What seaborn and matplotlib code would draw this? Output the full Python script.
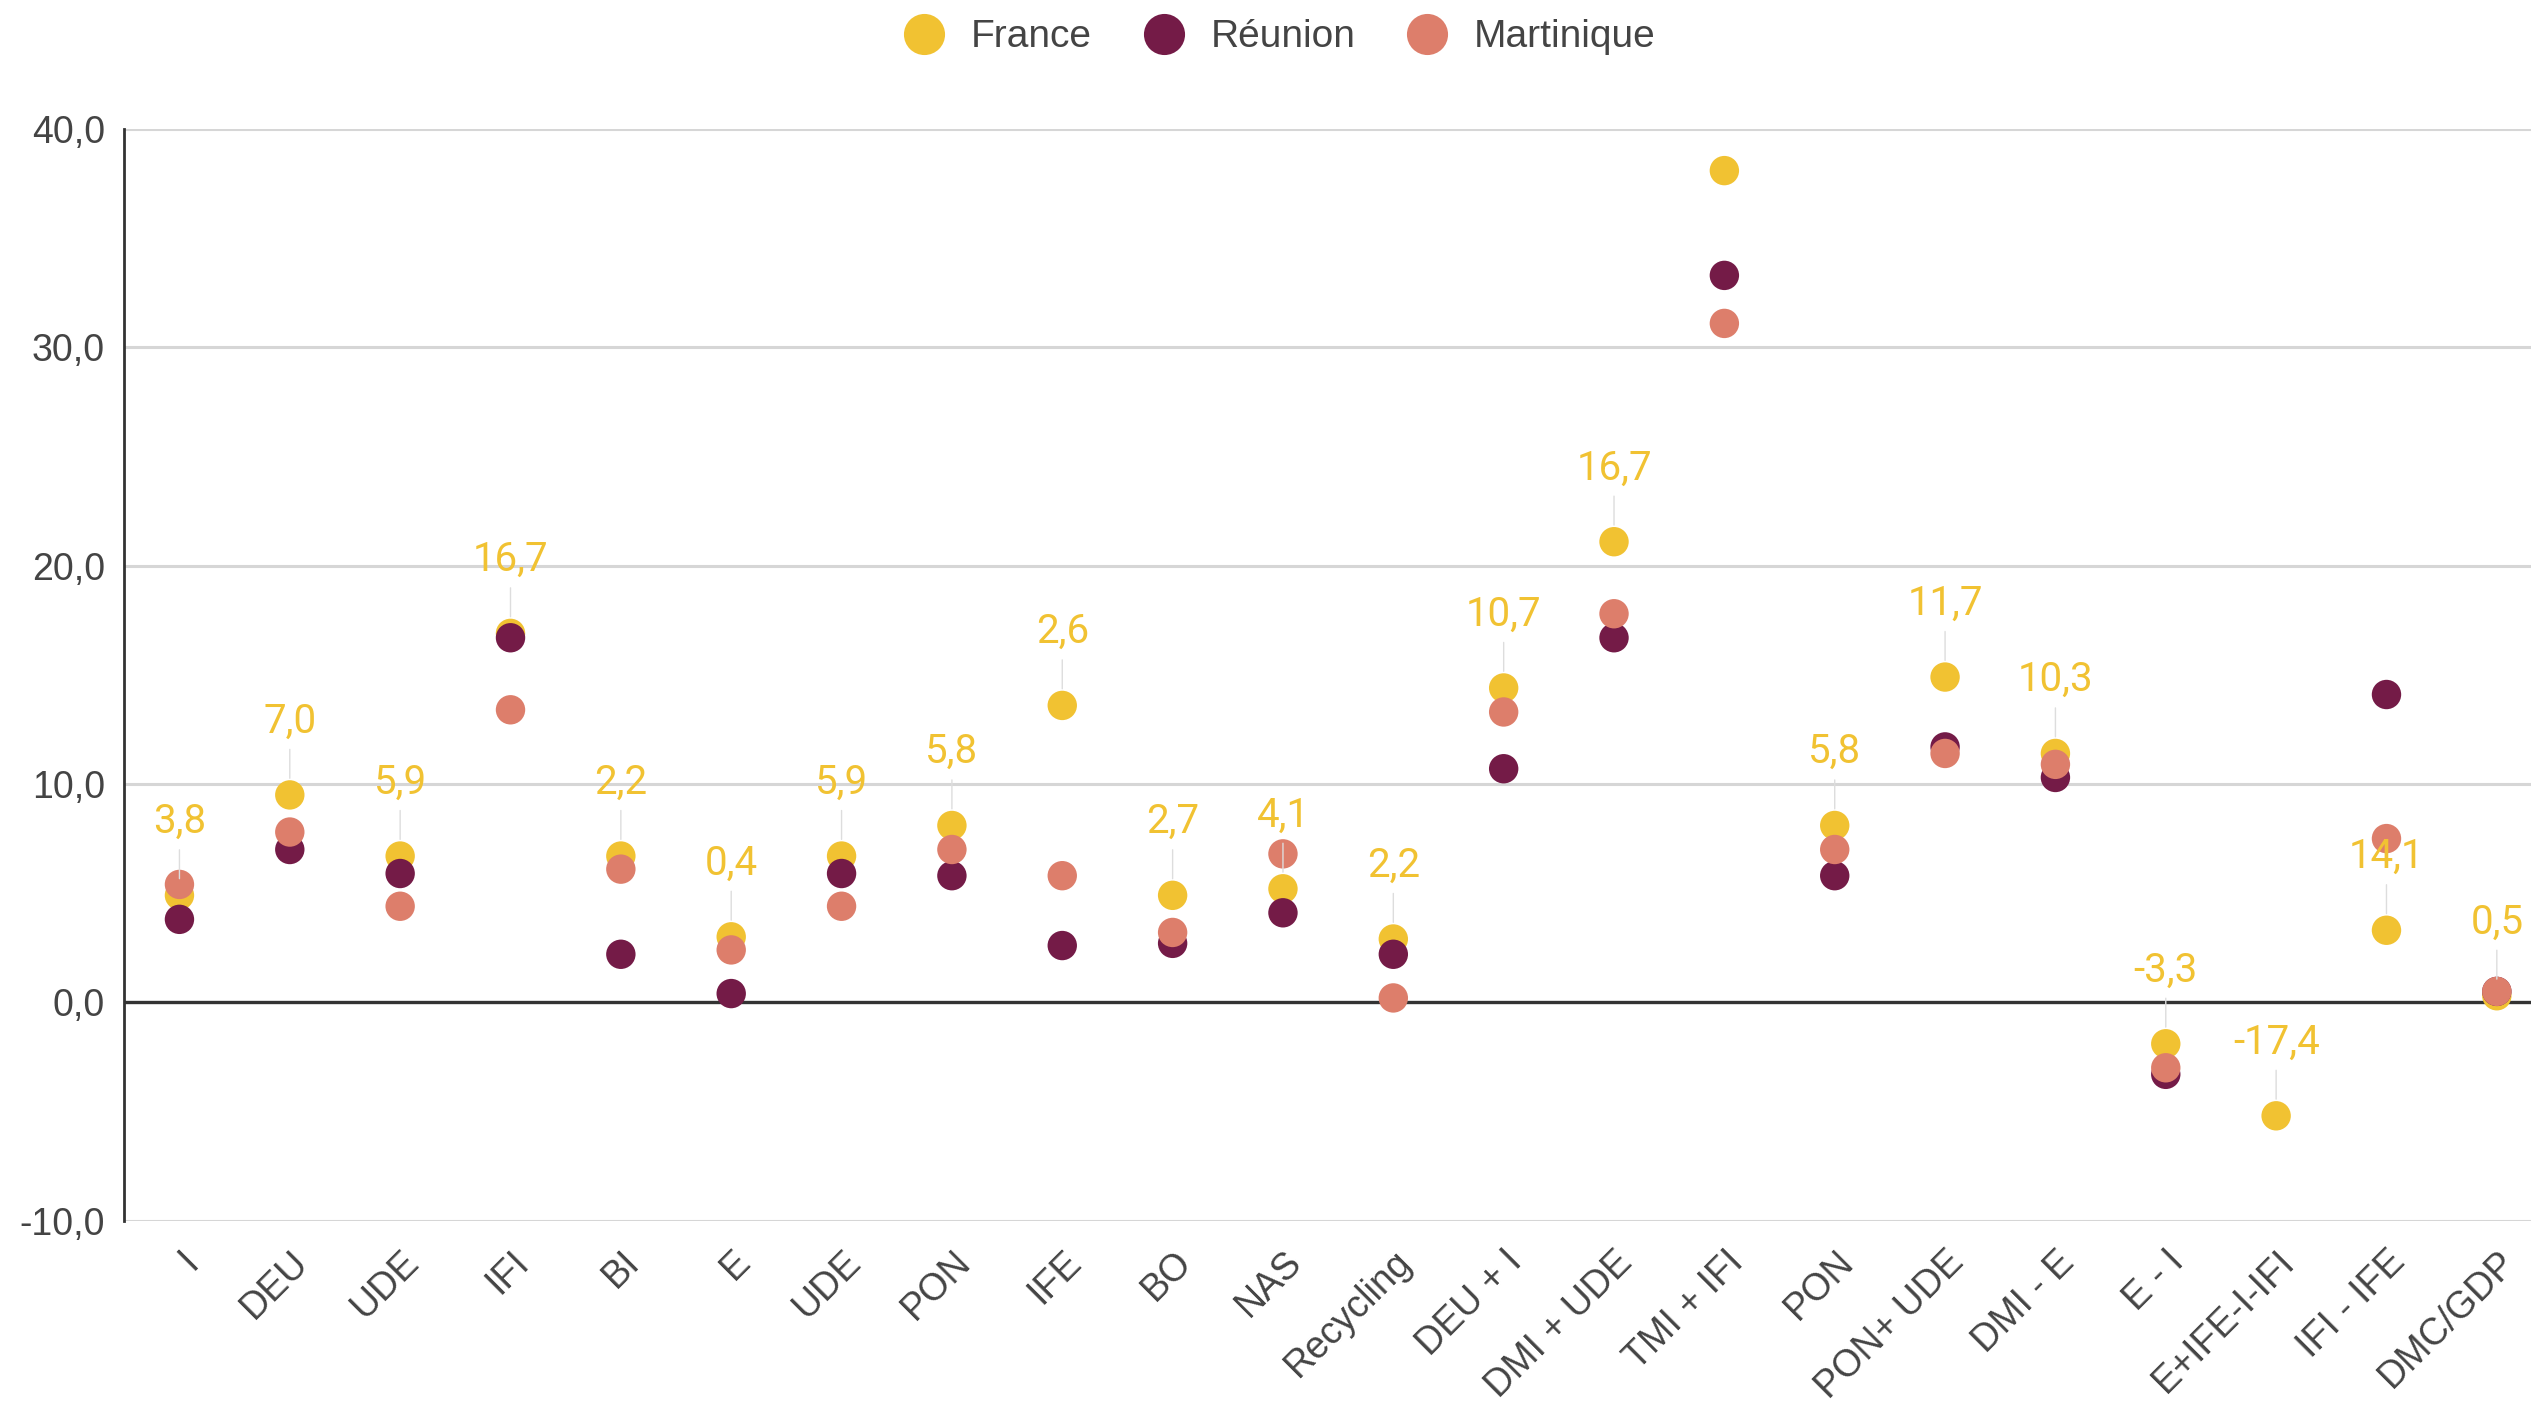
import numpy as np
import pandas as pd
import matplotlib
matplotlib.use("Agg")
import matplotlib.pyplot as plt
import seaborn as sns
from matplotlib.lines import Line2D
from matplotlib.ticker import FuncFormatter
from matplotlib.transforms import ScaledTranslation

# --- data ---
categories = ["I", "DEU", "UDE", "IFI", "BI", "E", "UDE", "PON", "IFE", "BO", "NAS",
              "Recycling", "DEU + I", "DMI + UDE", "TMI + IFI", "PON", "PON+ UDE",
              "DMI - E", "E - I", "E+IFE-I-IFI", "IFI - IFE", "DMC/GDP"]
france = [4.9, 9.5, 6.7, 16.9, 6.7, 3.0, 6.7, 8.1, 13.6, 4.9, 5.2,
          2.9, 14.4, 21.1, 38.1, 8.1, 14.9, 11.4, -1.9, -5.2, 3.3, 0.3]
reunion = [3.8, 7.0, 5.9, 16.7, 2.2, 0.4, 5.9, 5.8, 2.6, 2.7, 4.1,
           2.2, 10.7, 16.7, 33.3, 5.8, 11.7, 10.3, -3.3, -17.4, 14.1, 0.5]
martinique = [5.4, 7.8, 4.4, 13.4, 6.1, 2.4, 4.4, 7.0, 5.8, 3.2, 6.8,
              0.2, 13.3, 17.8, 31.1, 7.0, 11.4, 10.9, -3.0, -10.7, 7.5, 0.5]
series = ["France", "Réunion", "Martinique"]
colors = ["#f1c232", "#741b47", "#dd7e6b"]
ylim = (-10, 40)

pos = np.arange(len(categories))
df = pd.DataFrame({
    "pos": np.tile(pos, 3),
    "value": france + reunion + martinique,
    "serie": np.repeat(series, len(categories)),
})

sns.set_theme(style="white")
plt.rcParams["font.family"] = ["Liberation Sans", "DejaVu Sans"]

fig = plt.figure(figsize=(12.655, 7.08), dpi=200)
ax = fig.add_axes([0.0491, 0.138, 0.9592, 0.7708])

sns.scatterplot(data=df, x="pos", y="value", hue="serie", hue_order=series,
                palette=colors, marker="o", s=112, linewidth=0,
                legend=False, ax=ax, zorder=3)

# labels = Réunion values, sitting above the France dot
for x, yf, yr in zip(pos, france, reunion):
    if yf + 4.2 > ylim[1]:
        continue
    ax.annotate(f"{yr:.1f}".replace(".", ","), xy=(x, yf), xytext=(0, 26.6),
                textcoords="offset points", ha="center", va="center",
                fontsize=14.5, color="#f1c232", family=["Roboto", "DejaVu Sans"],
                arrowprops=dict(arrowstyle="-", color="#dddddd", lw=0.5,
                                shrinkA=1, shrinkB=6),
                zorder=5, annotation_clip=True)

ax.set_xlim(-0.5, len(categories) - 0.5)
ax.set_ylim(*ylim)
ax.set_yticks(np.arange(-10, 41, 10))
ax.yaxis.set_major_formatter(FuncFormatter(lambda v, p: f"{v:.1f}".replace(".", ",")))
ax.set_xticks(pos)
ax.set_xticklabels(categories, rotation=45, ha="right", va="center",
                   rotation_mode="anchor")
ax.tick_params(axis="x", length=0, pad=13, labelsize=13.5, labelcolor="#444444")
ax.tick_params(axis="y", length=0, pad=7, labelsize=13.5, labelcolor="#444444")
# nudge the slanted labels a bit to the right (after tick_params, which resets transforms)
shift = ScaledTranslation(4.7 / 72, 0, fig.dpi_scale_trans)
for lab in ax.get_xticklabels():
    lab.set_transform(lab.get_transform() + shift)
ax.set_xlabel("")
ax.set_ylabel("")

ax.grid(False)
ax.yaxis.grid(True, color="#d6d6d6", lw=1.1)
ax.set_axisbelow(True)
ax.axhline(0, color="#333333", lw=1.2, zorder=2)
for side in ["top", "right", "bottom"]:
    ax.spines[side].set_visible(False)
ax.spines["left"].set_color("#333333")
ax.spines["left"].set_linewidth(1.0)

handles = [Line2D([], [], ls="", marker="o", markersize=14.8,
                  markerfacecolor=c, markeredgewidth=0) for c in colors]
fig.legend(handles, series, loc="upper center", bbox_to_anchor=(0.505, 1.011),
           ncol=3, frameon=False, fontsize=14, handlelength=1.2,
           handletextpad=0.6, columnspacing=1.25, labelcolor="#444444")

fig.savefig("out.png", dpi=200)
